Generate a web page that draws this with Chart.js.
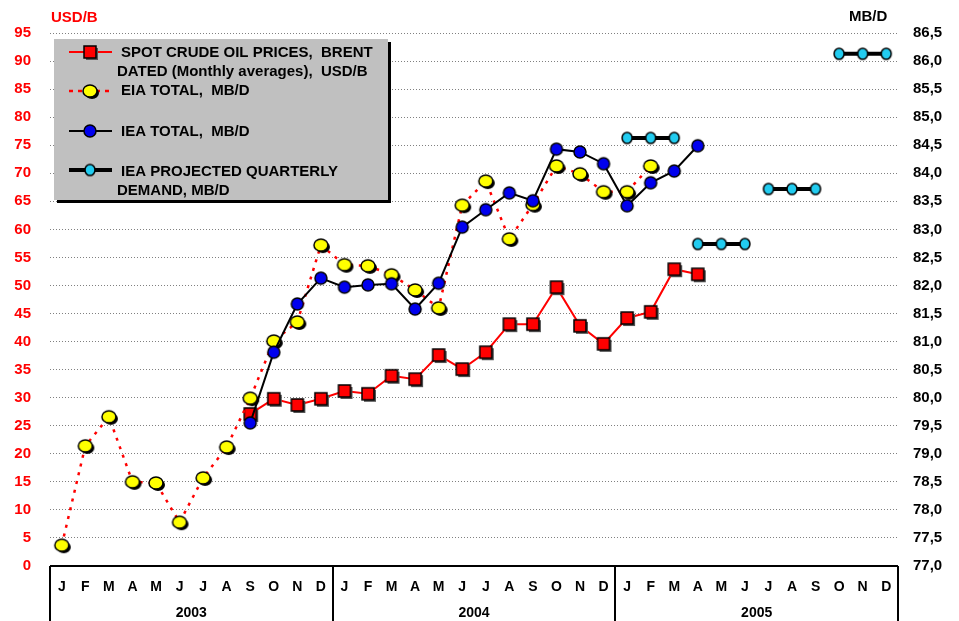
<!DOCTYPE html>
<html>
<head>
<meta charset="utf-8">
<script src="https://cdn.jsdelivr.net/npm/chart.js@4.4.1/dist/chart.umd.min.js"></script>
<style>
  html, body { margin: 0; padding: 0; background: #ffffff; }
  #wrap { width: 959px; height: 621px; }
</style>
</head>
<body>
<div id="wrap"><canvas id="oilChart" width="959" height="621"></canvas></div>
<script>
// Month / year labels
const monthLetters = ["J", "F", "M", "A", "M", "J", "J", "A", "S", "O", "N", "D"];
const years = ["2003", "2004", "2005"];
const labels = monthLetters.concat(monthLetters, monthLetters);

// Spot crude oil prices, Brent dated (USD/B), Sep 2003 - Apr 2005
const brent = [
    null, null, null, null, null, null, null, null, 27.1, 29.8, 28.7, 29.8,
    31.2, 30.7, 33.9, 33.3, 37.6, 35.1, 38.1, 43.1, 43.1, 49.7, 42.8, 39.6,
    44.2, 45.3, 52.9, 52.0, null, null, null, null, null, null, null, null
];

// EIA total demand (MB/D)
const eiaTotal = [
    77.37, 79.14, 79.66, 78.50, 78.48, 77.78, 78.57, 79.12, 79.99, 81.01, 81.35, 82.72,
    82.37, 82.35, 82.19, 81.92, 81.60, 83.43, 83.86, 82.83, 83.44, 84.13, 83.99, 83.67,
    83.67, 84.13, null, null, null, null, null, null, null, null, null, null
];

// IEA total demand (MB/D)
const ieaTotal = [
    null, null, null, null, null, null, null, null, 79.55, 80.81, 81.67, 82.13,
    81.97, 82.01, 82.03, 81.58, 82.04, 83.04, 83.35, 83.65, 83.51, 84.43, 84.38, 84.17,
    83.42, 83.83, 84.04, 84.49, null, null, null, null, null, null, null, null
];

// IEA projected quarterly demand (MB/D), one value per month of each quarter
const ieaProjected = [
    null, null, null, null, null, null, null, null, null, null, null, null,
    null, null, null, null, null, null, null, null, null, null, null, null,
    84.63, 84.63, 84.63, 82.74, 82.74, 82.74, 83.72, 83.72, 83.72, 86.13, 86.13, 86.13
];

const FONT = "Arial, 'Liberation Sans', sans-serif";

// Marker images
function makeMarker(fill, rx, ry, square, shadowColor) {
    const c = document.createElement("canvas");
    c.width = Math.ceil(rx * 2 + 8);
    c.height = Math.ceil(ry * 2 + 8);
    const g = c.getContext("2d");
    const cx = c.width / 2, cy = c.height / 2;
    function shape(x, y) {
        g.beginPath();
        if (square) g.rect(x - rx, y - ry, rx * 2, ry * 2);
        else g.ellipse(x, y, rx, ry, 0, 0, Math.PI * 2);
    }
    if (shadowColor) {
        shape(cx + 2, cy + 2);
        g.fillStyle = shadowColor;
        g.fill();
    }
    shape(cx, cy);
    g.fillStyle = fill;
    g.fill();
    g.lineWidth = 1.5;
    g.strokeStyle = "#000000";
    g.stroke();
    return c;
}

const redSquare = makeMarker("#ff0000", 6, 6, true, "#555555");
const yellowDot = makeMarker("#ffff00", 7, 6, false, "#000000");
const blueDot = makeMarker("#0000ee", 6, 6, false, null);
const cyanDot = makeMarker("#22ccf0", 5, 5.5, false, null);

// Legend box, titles and the month/year table below the plot
const decorations = {
    id: "decorations",
    beforeDatasetsDraw(chart) {
        const ctx = chart.ctx;
        ctx.save();
        // legend box with shadow
        ctx.fillStyle = "#000000";
        ctx.fillRect(57, 42, 334, 161);
        ctx.fillStyle = "#c0c0c0";
        ctx.fillRect(54, 39, 334, 161);

        ctx.font = "bold 15px " + FONT;
        ctx.fillStyle = "#000000";
        ctx.textBaseline = "middle";
        ctx.textAlign = "left";
        ctx.fillText("SPOT CRUDE OIL PRICES,  BRENT", 121, 53);
        ctx.fillText("DATED (Monthly averages),  USD/B", 117, 72);
        ctx.fillText("EIA TOTAL,  MB/D", 121, 91);
        ctx.fillText("IEA TOTAL,  MB/D", 121, 132);
        ctx.fillText("IEA PROJECTED QUARTERLY", 121, 172);
        ctx.fillText("DEMAND, MB/D", 117, 191);

        function sample(y, color, width, dash, img) {
            ctx.beginPath();
            ctx.setLineDash(dash);
            ctx.strokeStyle = color;
            ctx.lineWidth = width;
            ctx.moveTo(69, y);
            ctx.lineTo(112, y);
            ctx.stroke();
            ctx.setLineDash([]);
            ctx.drawImage(img, 90 - img.width / 2, y - img.height / 2);
        }
        sample(52, "#ff0000", 2, [], redSquare);
        sample(91, "#ff0000", 2.5, [4, 5], yellowDot);
        sample(131, "#000000", 2, [], blueDot);
        sample(170, "#000000", 4, [], cyanDot);
        ctx.restore();
    },
    afterDraw(chart) {
        const ctx = chart.ctx;
        const area = chart.chartArea;
        const x = chart.scales.x;
        ctx.save();
        // axis titles
        ctx.font = "bold 15px " + FONT;
        ctx.textBaseline = "middle";
        ctx.textAlign = "left";
        ctx.fillStyle = "#ff0000";
        ctx.fillText("USD/B", 51, 18);
        ctx.fillStyle = "#000000";
        ctx.fillText("MB/D", 849, 17);

        // table lines
        ctx.strokeStyle = "#000000";
        ctx.lineWidth = 2;
        ctx.beginPath();
        ctx.moveTo(area.left, area.bottom);
        ctx.lineTo(area.right, area.bottom);
        [area.left, x.getPixelForValue(11.5), x.getPixelForValue(23.5), area.right].forEach(px => {
            ctx.moveTo(Math.round(px), area.bottom);
            ctx.lineTo(Math.round(px), 621);
        });
        ctx.stroke();

        // year labels
        ctx.font = "bold 14px " + FONT;
        ctx.textAlign = "center";
        years.forEach((yr, i) => {
            ctx.fillText(yr, x.getPixelForValue(i * 12 + 5.5), 613);
        });
        ctx.restore();
    }
};

const ctx = document.getElementById("oilChart").getContext("2d");
const oilChart = new Chart(ctx, {
    type: "line",
    data: {
        labels: labels,
        datasets: [
            {
                label: "SPOT CRUDE OIL PRICES, BRENT DATED (Monthly averages), USD/B",
                data: brent,
                yAxisID: "y",
                borderColor: "#ff0000",
                borderWidth: 2,
                pointStyle: redSquare,
                order: 3,
            },
            {
                label: "EIA TOTAL, MB/D",
                data: eiaTotal,
                yAxisID: "y2",
                borderColor: "#ff0000",
                borderWidth: 2.5,
                borderDash: [3, 6],
                pointStyle: yellowDot,
                order: 2,
            },
            {
                label: "IEA TOTAL, MB/D",
                data: ieaTotal,
                yAxisID: "y2",
                borderColor: "#000000",
                borderWidth: 2,
                pointStyle: blueDot,
                order: 1,
            },
            {
                label: "IEA PROJECTED QUARTERLY DEMAND, MB/D",
                data: ieaProjected,
                yAxisID: "y2",
                borderColor: "#000000",
                borderWidth: 4,
                pointStyle: cyanDot,
                order: 0,
                segment: {
                    // break the line between quarters
                    borderColor: c => (c.p0DataIndex % 3 === 2 ? "rgba(0,0,0,0)" : "#000000"),
                },
            },
        ],
    },
    options: {
        responsive: false,
        animation: false,
        spanGaps: false,
        layout: { padding: { top: 33, left: 0, right: 0, bottom: 0 } },
        elements: { line: { tension: 0 } },
        plugins: {
            legend: { display: false },
            tooltip: { enabled: false },
        },
        scales: {
            x: {
                offset: true,
                grid: { display: false, drawTicks: false, offset: true },
                border: { display: false },
                ticks: {
                    autoSkip: false,
                    maxRotation: 0,
                    padding: 13,
                    color: "#000000",
                    font: { family: FONT, size: 14, weight: "bold" },
                },
                afterFit: s => { s.height = 55; },
            },
            y: {
                position: "left",
                min: 0,
                max: 95,
                ticks: {
                    stepSize: 5,
                    padding: 19,
                    color: "#ff0000",
                    font: { family: FONT, size: 15, weight: "bold" },
                },
                grid: { color: "#808080", lineWidth: 1, drawTicks: false },
                border: { display: false, dash: [1, 2] },
                afterFit: s => { s.width = 50; },
            },
            y2: {
                position: "right",
                min: 77,
                max: 86.5,
                ticks: {
                    stepSize: 0.5,
                    padding: 15,
                    color: "#000000",
                    font: { family: FONT, size: 15, weight: "bold" },
                    callback: v => v.toFixed(1).replace(".", ","),
                },
                grid: { drawOnChartArea: false, drawTicks: false },
                border: { display: false },
                afterFit: s => { s.width = 61; },
            },
        },
    },
    plugins: [decorations],
});
</script>
</body>
</html>
